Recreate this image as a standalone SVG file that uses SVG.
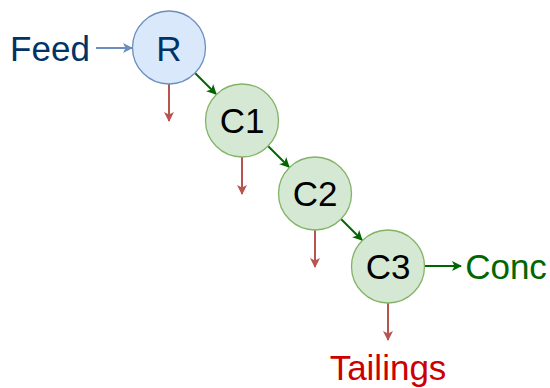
<svg xmlns="http://www.w3.org/2000/svg" width="550" height="388" viewBox="0 0 550 388">
<defs>
<style>
text{font-family:"Liberation Sans",Arial,sans-serif;font-size:35px;text-anchor:middle}
.blue{fill:#dae8fc;stroke:#6c8ebf;stroke-width:1.3}
.green{fill:#d5e8d4;stroke:#82b366;stroke-width:1.3}
.ga{stroke:#006600;stroke-width:2;fill:none;marker-end:url(#mg)}
.ra{stroke:#b85450;stroke-width:2;fill:none;marker-end:url(#mr)}
.ba{stroke:#6c8ebf;stroke-width:2;fill:none;marker-end:url(#mb)}
</style>
<marker id="mg" viewBox="0 0 10 10" refX="9" refY="5" markerWidth="10" markerHeight="10" markerUnits="userSpaceOnUse" orient="auto"><path d="M0,0 L10,5 L0,10 L2.5,5 Z" fill="#006600"/></marker>
<marker id="mr" viewBox="0 0 10 10" refX="9" refY="5" markerWidth="10" markerHeight="10" markerUnits="userSpaceOnUse" orient="auto"><path d="M0,0 L10,5 L0,10 L2.5,5 Z" fill="#b85450"/></marker>
<marker id="mb" viewBox="0 0 10 10" refX="9" refY="5" markerWidth="10" markerHeight="10" markerUnits="userSpaceOnUse" orient="auto"><path d="M0,0 L10,5 L0,10 L2.5,5 Z" fill="#6c8ebf"/></marker>
</defs>
<g id="connectors">
<path class="ba" d="M96,48 L132,48"/>
<path class="ga" d="M195,73 L216,94"/>
<path class="ga" d="M268,146 L289,167"/>
<path class="ga" d="M341,219 L362,240"/>
<path class="ga" d="M425,266 L461,266"/>
<path class="ra" d="M169,84 L169,121"/>
<path class="ra" d="M242,157 L242,194"/>
<path class="ra" d="M315,230 L315,267"/>
<path class="ra" d="M388,303 L388,340"/>
</g>
<g id="feed"><text x="50" y="61" fill="#003366">Feed</text></g>
<g id="R"><circle class="blue" cx="169" cy="47.5" r="36.5"/><text x="169" y="61" fill="#003366">R</text></g>
<g id="C1"><circle class="green" cx="242" cy="120.5" r="36.5"/><text x="242" y="133">C1</text></g>
<g id="C2"><circle class="green" cx="315" cy="193.5" r="36.5"/><text x="315" y="206">C2</text></g>
<g id="C3"><circle class="green" cx="388" cy="266.5" r="36.5"/><text x="388" y="279">C3</text></g>
<g id="conc"><text x="506" y="279" fill="#006600">Conc</text></g>
<g id="tailings"><text x="388" y="380" fill="#cc0000">Tailings</text></g>
</svg>
